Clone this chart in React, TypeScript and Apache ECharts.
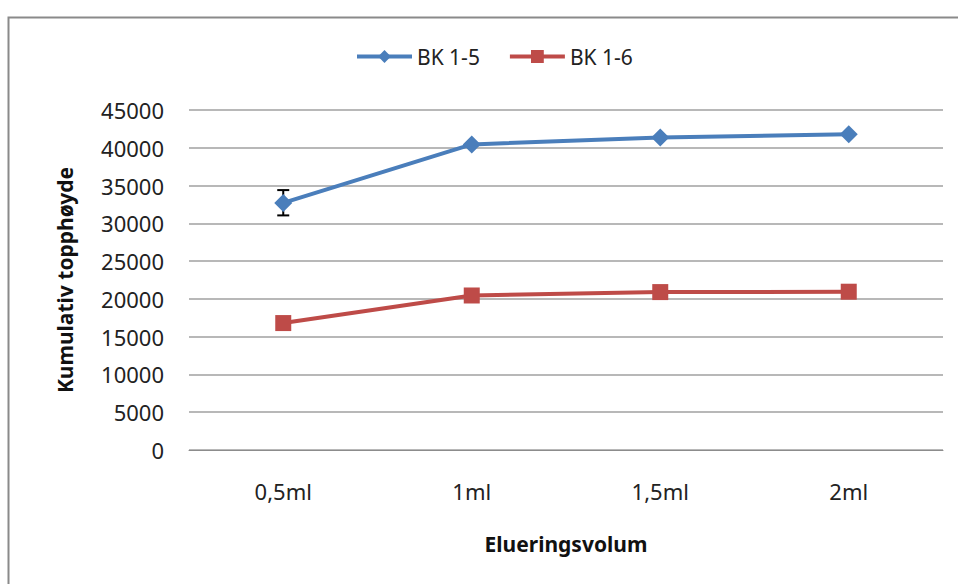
import React, { useEffect, useRef } from "react";
import * as echarts from "echarts";

const categories = ["0,5ml", "1ml", "1,5ml", "2ml"];
const bk15 = [32700, 40450, 41350, 41800];
const bk16 = [16800, 20450, 20900, 20950];
// error bar for BK 1-5 at 0,5ml: [categoryIndex, low, high]
const bk15Err = [[0, 31050, 34400]];
const yMin = 0;
const yMax = 45000;
const yInterval = 5000;

const FONT = "Noto Sans";

export default function App() {
  const ref = useRef<HTMLDivElement>(null);
  useEffect(() => {
    if (!ref.current) return;
    const chart = echarts.init(ref.current, null, { renderer: "svg" });
    chart.setOption({
      animation: false,
      backgroundColor: "#ffffff",
      textStyle: { fontFamily: FONT },
      graphic: [
        {
          type: "rect",
          left: 6,
          top: 15,
          shape: { width: 1000, height: 1000 },
          style: { fill: "none", stroke: "#8a8a8a", lineWidth: 2 },
          z: 0,
        },
      ],
      legend: {
        data: ["BK 1-5", "BK 1-6"],
        left: 350,
        top: 41,
        padding: 5,
        itemWidth: 55,
        itemHeight: 16,
        itemGap: 28,
        lineStyle: { width: 4 },
        textStyle: { fontFamily: FONT, fontSize: 21, color: "#222" },
      },
      grid: { left: 189, right: 15, top: 110, bottom: 134 },
      xAxis: {
        type: "category",
        data: categories,
        boundaryGap: true,
        axisLine: { show: true, lineStyle: { color: "#8c8c8c", width: 1 } },
        axisTick: { show: false },
        axisLabel: { fontFamily: FONT, fontSize: 22, color: "#222", margin: 30 },
        name: "Elueringsvolum",
        nameLocation: "middle",
        nameGap: 83,
        nameTextStyle: { fontFamily: FONT, fontSize: 21, fontWeight: "bold", color: "#111" },
      },
      yAxis: {
        type: "value",
        min: yMin,
        max: yMax,
        interval: yInterval,
        axisLine: { show: false },
        axisTick: { show: false },
        axisLabel: {
          fontFamily: FONT,
          fontSize: 22,
          color: "#222",
          margin: 25,
          formatter: (v: number) => String(v),
        },
        splitLine: { show: true, lineStyle: { color: "#a0a0a0", width: 1.5 } },
        name: "Kumulativ topphøyde",
        nameLocation: "middle",
        nameGap: 114,
        nameTextStyle: { fontFamily: FONT, fontSize: 21, fontWeight: "bold", color: "#111" },
      },
      series: [
        {
          name: "BK 1-5 error",
          type: "custom",
          z: 1,
          data: bk15Err,
          renderItem: (params: any, api: any) => {
            const x = api.value(0);
            const lo = api.coord([x, api.value(1)]);
            const hi = api.coord([x, api.value(2)]);
            const w = 6;
            const style = { stroke: "#000", lineWidth: 2 };
            return {
              type: "group",
              children: [
                { type: "line", shape: { x1: lo[0], y1: lo[1], x2: hi[0], y2: hi[1] }, style },
                { type: "line", shape: { x1: lo[0] - w, y1: lo[1], x2: lo[0] + w, y2: lo[1] }, style },
                { type: "line", shape: { x1: hi[0] - w, y1: hi[1], x2: hi[0] + w, y2: hi[1] }, style },
              ],
            };
          },
        },
        {
          name: "BK 1-5",
          type: "line",
          z: 3,
          data: bk15,
          symbol: "diamond",
          symbolSize: 18,
          lineStyle: { color: "#4a7ebb", width: 4 },
          itemStyle: { color: "#4a7ebb" },
        },
        {
          name: "BK 1-6",
          type: "line",
          z: 3,
          data: bk16,
          symbol: "rect",
          symbolSize: 16,
          lineStyle: { color: "#be4b48", width: 4 },
          itemStyle: { color: "#be4b48" },
        },
      ],
    });
    return () => chart.dispose();
  }, []);
  return (
    <div
      ref={ref}
      style={{ position: "fixed", left: 0, top: 0, width: 958, height: 584 }}
    />
  );
}
